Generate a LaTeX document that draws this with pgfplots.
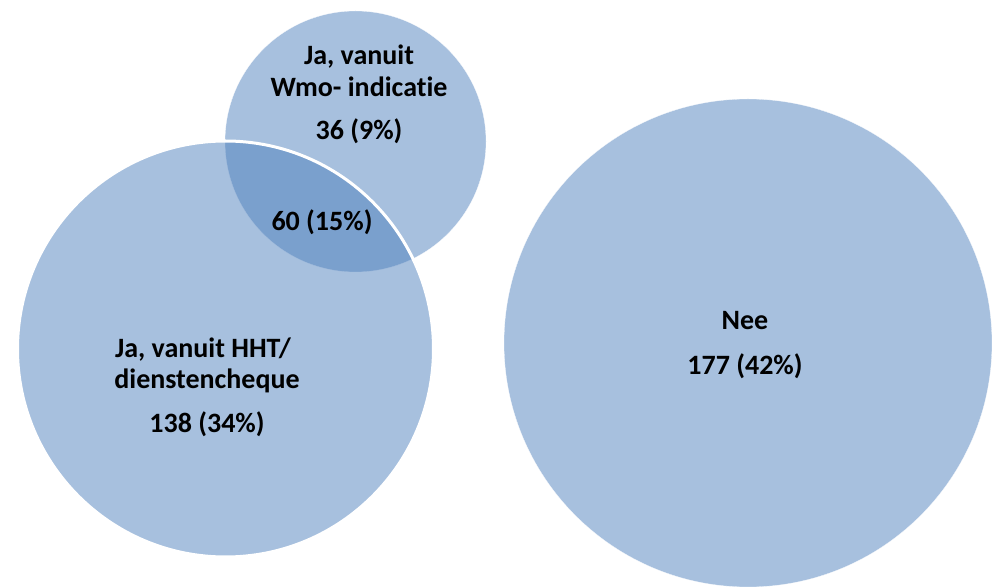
\documentclass[border=0pt]{standalone}
\usepackage{pgfplots}
\pgfplotsset{compat=1.18}
\usepackage{fontspec}
\setmainfont{Carlito}[Ligatures=NoCommon]
\definecolor{vblue}{HTML}{4F81BD}
\begin{document}
\begin{tikzpicture}
\begin{axis}[
  x=0.5pt, y=0.5pt,
  xmin=0, xmax=992, ymin=0, ymax=588,
  y dir=reverse,
  hide axis,
  clip marker paths=true,
  clip=true,
  scale only axis,
]
% Wmo-indicatie circle
\addplot[only marks, mark=*, mark size=65.25pt,
  mark options={fill=vblue, fill opacity=0.5, draw=white, line width=0.1pt}]
  coordinates {(355.5,141.5)};
% HHT / dienstencheque circle
\addplot[only marks, mark=*, mark size=104pt,
  mark options={fill=vblue, fill opacity=0.5, draw=white, draw opacity=1, line width=1.5pt}]
  coordinates {(225.5,349)};
% Nee circle
\addplot[only marks, mark=*, mark size=122pt,
  mark options={fill=vblue, fill opacity=0.5, draw=white, line width=0.1pt}]
  coordinates {(748,343)};

\begin{scope}[every node/.style={font=\fontsize{14}{17}\selectfont\bfseries, anchor=base, inner sep=0pt}]
\node at (axis cs:359,65) {Ja, vanuit};
\node at (axis cs:359,97) {Wmo- indicatie};
\node at (axis cs:359,140) {36 (9\%)};
\node at (axis cs:322,231) {60 (15\%)};
\node at (axis cs:203,358) {Ja, vanuit HHT/};
\node at (axis cs:207,389) {dienstencheque};
\node at (axis cs:207,433) {138 (34\%)};
\node at (axis cs:745,330) {Nee};
\node at (axis cs:745,375) {177 (42\%)};
\end{scope}
\end{axis}
\pgfresetboundingbox
\useasboundingbox (current axis.south west) rectangle (current axis.north east);
\end{tikzpicture}
\end{document}
